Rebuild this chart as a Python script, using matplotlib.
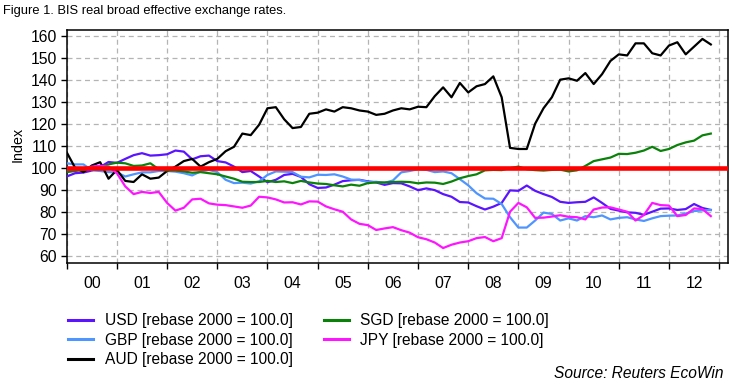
import numpy as np
import matplotlib
matplotlib.use("Agg")
import matplotlib.pyplot as plt
from matplotlib.ticker import FixedLocator, NullFormatter, FixedFormatter

plt.rcParams['font.family'] = ['Liberation Sans', 'DejaVu Sans']

# bi-monthly observation dates (decimal years), Jan 2000 .. Nov 2012
dates = 2000 + np.arange(78) / 6.0

usd = [96, 97.5, 97.8, 98.7, 100.3, 102.6, 102.2, 104, 105.7, 106.6, 105.5, 105.7,
       106.1, 107.8, 107.3, 103.8, 105.2, 105.5, 103, 102.4,
       100.5, 98, 98.5, 96, 93.4, 94.5, 96.7, 97.2, 95.8, 92.5, 90.8, 91,
       92.3, 93.9, 94.3, 94.5, 93.8, 93.3, 92.2, 93,
       92.9, 91.5, 89.8, 90.6, 89.8, 88, 86.8, 84.4, 84.2, 82.5, 81, 82.3,
       84, 89.7, 89.5, 91.9, 89.5, 88, 86.7, 84.5,
       84, 84.3, 84.5, 86.5, 84, 81.3, 80.5, 79.7, 79.5, 78.6, 80, 81.4,
       81.5, 80.8, 81.2, 83.5, 81.7, 80.8]

gbp = [102, 101.5, 101.5, 98.8, 98.5, 98, 97.9, 96, 97, 97.9, 97.9, 98.5,
       98.5, 98.2, 97.5, 96.5, 98.3, 99, 98, 94.5,
       93, 93.2, 92.8, 93.8, 96.7, 98.3, 98.2, 98, 95.9, 95.6, 96.8, 96.7,
       97, 96, 94.6, 94.4, 93.5, 93.6, 93.1, 94.2,
       97.9, 98.5, 99.3, 99, 98, 98.3, 97.5, 94.8, 92, 88.4, 86, 85.9,
       83.5, 77.5, 72.8, 72.8, 76, 79.6, 79, 76,
       77, 76, 78, 77.5, 78.3, 76.5, 77.2, 77.5, 76.5, 75.8, 77, 78,
       78.2, 78.3, 79.2, 80.3, 80.6, 80.8]

aud = [107, 100, 98, 101, 102.5, 95, 99, 94, 93.5, 97, 95, 95.5,
       98.5, 100.5, 103, 104, 100.5, 102.5, 104, 107.5,
       109.5, 115.5, 114.8, 119.5, 127, 127.5, 122, 118, 118.5, 124.5, 125, 126.5,
       125.5, 127.5, 127, 126, 125.5, 124, 124.5, 126,
       127, 126.5, 127.7, 127.5, 132.5, 136.5, 132, 138.5, 134.2, 137, 138, 141.5,
       132, 109, 108.5, 108.5, 120, 127, 132, 140,
       140.6, 139.5, 143, 138, 142.5, 148.5, 151.5, 151, 156.5, 156.5, 152, 151,
       155.5, 157, 151.5, 155, 158.5, 156]

sgd = [98, 98.5, 99, 99.5, 100.5, 101.5, 102.3, 102, 100.8, 101, 102, 99.3,
       98.7, 98.7, 98.3, 97.7, 98, 97.5, 97, 96,
       95, 93.6, 93.5, 93.5, 94, 93.5, 93.8, 93, 94, 93.3, 92.8, 92.6,
       92, 91.5, 92.3, 91.8, 93, 93.3, 93.3, 93.5,
       93.6, 93.5, 92.9, 93.3, 93.2, 92.6, 93.7, 95.2, 96.2, 97, 98.8, 99,
       98.9, 99.8, 100.5, 99.3, 98.9, 98.7, 99, 99.1,
       98.3, 98.8, 100.8, 103, 103.8, 104.6, 106.3, 106.2, 106.8, 107.8, 109.5, 107.6,
       108.5, 110.3, 111.5, 112.3, 114.7, 115.5]

jpy = [99, 99, 99.5, 100.5, 100.9, 100.5, 97.5, 91.5, 88, 89, 88.5, 89,
       84, 80.5, 81.8, 85.6, 85.9, 83.8, 83.2, 83,
       82.4, 81.8, 82.8, 86.8, 86.5, 85.6, 84.2, 84.3, 83.3, 84.7, 84.6, 82.4,
       81.1, 80, 76.5, 74.5, 73.9, 71.7, 72.4, 73,
       71.6, 70.5, 68.4, 67.5, 66, 63.5, 65, 66, 66.6, 68, 68.5, 66.6,
       68, 80, 84, 82, 77.2, 77.3, 77.8, 78.4,
       77.7, 77.5, 76.5, 81, 81.9, 82, 81, 80, 76, 78.5, 84, 83,
       82.8, 78, 78.5, 81.5, 81.2, 78]

rebase = 100.0
years = list(range(2000, 2014))
year_labels = ['00', '01', '02', '03', '04', '05', '06', '07', '08', '09', '10', '11', '12']
yticks = list(range(60, 161, 10))

series = [
    ('USD [rebase 2000 = 100.0]', usd, '#5a14ff'),
    ('GBP [rebase 2000 = 100.0]', gbp, '#4f95ff'),
    ('AUD [rebase 2000 = 100.0]', aud, '#000000'),
    ('SGD [rebase 2000 = 100.0]', sgd, '#0a820a'),
    ('JPY [rebase 2000 = 100.0]', jpy, '#ff14ff'),
]

fig = plt.figure(figsize=(7.33, 3.89), dpi=100)
ax = fig.add_axes([66.7 / 733, 1 - 263 / 389, (727.7 - 66.7) / 733, (263 - 29.7) / 389])

handles = {}
for label, vals, col in series:
    h, = ax.plot(dates, vals, color=col, lw=1.6, label=label, zorder=3)
    handles[label] = h

ax.axhline(rebase, color='#ff0000', lw=3.3, zorder=4)

ax.set_xlim(2000, 2013.17)
ax.set_ylim(56.7, 162.7)

ax.xaxis.set_major_locator(FixedLocator(years))
ax.xaxis.set_major_formatter(NullFormatter())
ax.xaxis.set_minor_locator(FixedLocator([y + 0.5 for y in years[:-1]]))
ax.xaxis.set_minor_formatter(FixedFormatter(year_labels))
ax.tick_params(axis='x', which='major', direction='out', length=4, width=1, color='black')
ax.tick_params(axis='x', which='minor', length=0, pad=9.5, labelsize=11.3)

ax.set_yticks(yticks)
ax.tick_params(axis='y', direction='out', length=4, width=1, pad=3, labelsize=11.3)

ax.grid(True, which='major', color='#b4b4b4', linestyle=(0, (4, 3)), lw=0.9, zorder=0)
for s in ax.spines.values():
    s.set_linewidth(1.1)
    s.set_color('black')

fig.text(18 / 733, 1 - 144 / 389, 'Index', rotation=90, ha='center', va='center', fontsize=10.3)
fig.text(3 / 733, 1 - 11 / 389, 'Figure 1. BIS real broad effective exchange rates.',
         ha='left', va='center', fontsize=9.3)
fig.text(724 / 733, 1 - 373 / 389, 'Source: Reuters EcoWin', ha='right', va='center',
         fontsize=11.2, style='italic')

leg = fig.legend([handles[l] for l, _, _ in series], [l for l, _, _ in series],
                 ncol=2, loc='upper left', bbox_to_anchor=(68 / 733, 1 - 313 / 389),
                 frameon=False, fontsize=11.2, handlelength=1.6, handletextpad=0.75,
                 columnspacing=2.0, labelspacing=0.3, borderpad=0, borderaxespad=0)
for line in leg.get_lines():
    line.set_linewidth(2.2)

fig.savefig('out.png', dpi=100)
